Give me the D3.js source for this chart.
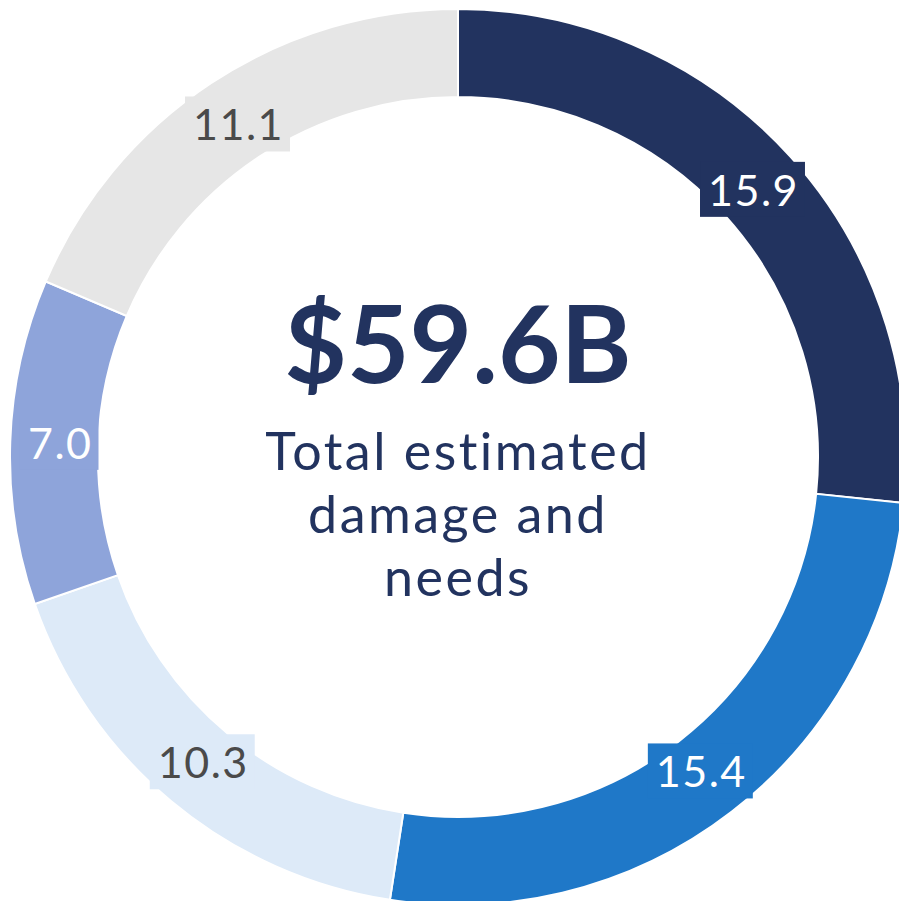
<!DOCTYPE html>
<html>
<head>
<meta charset="utf-8">
<script src="https://cdn.jsdelivr.net/npm/d3@7"></script>
<style>
  body { margin: 0; background: #fff; }
  svg { display: block; }
</style>
</head>
<body>
<div id="chart"></div>
<script>
// slice data, clockwise from 12 o'clock
const categories = ["A", "B", "C", "D", "E"];
const values = [15.9, 15.4, 10.3, 7.0, 11.1];
const colors = ["#22335f", "#1f78c8", "#ddeaf8", "#8ea4da", "#e6e6e6"];
const labelColors = ["#ffffff", "#ffffff", "#4a4a4a", "#ffffff", "#4a4a4a"];
const totalText = "$59.6B";
const subtitleLines = ["Total estimated", "damage and", "needs"];

let width = 899,
  height = 901,
  cx = 458,
  cy = 457,
  outerR = 448,
  innerR = 360,
  font = "Lato, 'Open Sans', sans-serif";

let svg = d3.select("#chart")
  .append("svg")
  .attr("width", width)
  .attr("height", height);

let g = svg.append("g")
  .attr("transform", "translate(" + cx + "," + cy + ")");

let data = categories.map((c, i) => ({ name: c, value: values[i], color: colors[i], labelColor: labelColors[i] }));

let pie = d3.pie()
  .sort(null)
  .value(d => d.value);

let arc = d3.arc()
  .innerRadius(innerR)
  .outerRadius(outerR);

let labelArc = d3.arc()
  .innerRadius(398)
  .outerRadius(398);

let arcs = pie(data);

g.selectAll(".slice")
  .data(arcs)
  .enter()
  .append("path")
  .attr("class", "slice")
  .attr("d", arc)
  .attr("fill", d => d.data.color)
  .attr("stroke", "#fff")
  .attr("stroke-width", 2);

// labels with a box in the slice colour behind them
let labels = g.selectAll(".label")
  .data(arcs)
  .enter()
  .append("g")
  .attr("class", "label")
  .attr("transform", d => "translate(" + labelArc.centroid(d) + ")");

labels.append("rect")
  .attr("fill", d => d.data.color);

labels.append("text")
  .attr("text-anchor", "middle")
  .attr("dy", "0.36em")
  .attr("font-family", font)
  .attr("font-size", 43)
  .attr("letter-spacing", 1.5)
  .attr("fill", d => d.data.labelColor)
  .text(d => d.data.value.toFixed(1));

labels.each(function () {
  let sel = d3.select(this);
  let bb = sel.select("text").node().getBBox();
  sel.select("rect")
    .attr("x", bb.x - 8)
    .attr("y", bb.y - 2)
    .attr("width", bb.width + 14)
    .attr("height", bb.height + 4);
});

// centre text
g.append("text")
  .attr("text-anchor", "middle")
  .attr("y", -74)
  .attr("font-family", font)
  .attr("font-weight", 700)
  .attr("font-size", 108)
  .attr("fill", "#22335f")
  .text(totalText);

g.selectAll(".sub")
  .data(subtitleLines)
  .enter()
  .append("text")
  .attr("class", "sub")
  .attr("text-anchor", "middle")
  .attr("y", (d, i) => 13 + i * 63)
  .attr("font-family", font)
  .attr("font-size", 52)
  .attr("letter-spacing", 2.5)
  .attr("fill", "#22335f")
  .text(d => d);
</script>
</body>
</html>
